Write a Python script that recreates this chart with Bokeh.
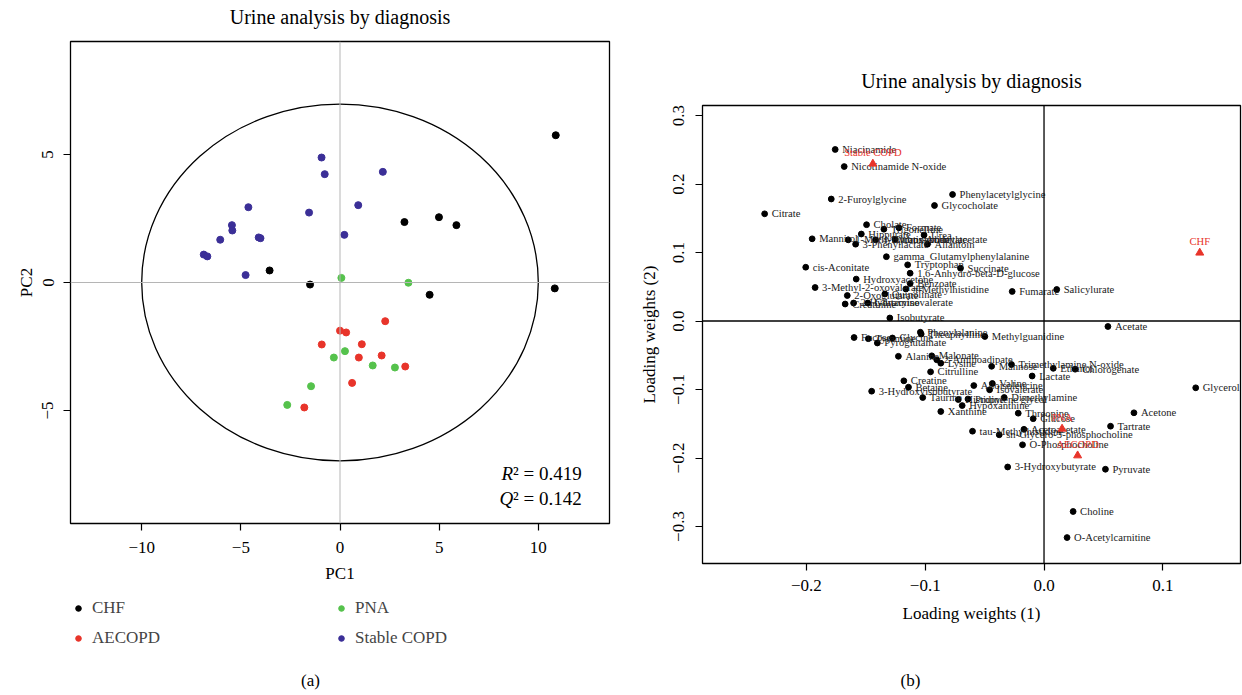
from bokeh.plotting import figure
from bokeh.models import (Span, Legend, LegendItem, Label, CustomJSTickFormatter,
                          FixedTicker, ColumnDataSource, Range1d)
from bokeh.layouts import row, column
from bokeh.embed import file_html
from bokeh.resources import INLINE
from bokeh.core.properties import value

FONT = "Liberation Serif"
RED = "#E8342A"
GREEN = "#55C24C"
BLUE = "#3B2F97"
TITLE = "Urine analysis by diagnosis"

# ---------------- Score plot (a) ----------------
chf_pc1 = [10.88, 3.25, 4.99, 5.87, -3.55, -1.51, 4.52, 10.83]
chf_pc2 = [5.75, 2.36, 2.55, 2.24, 0.47, -0.08, -0.48, -0.23]
aecopd_pc1 = [2.28, 0.00, 0.31, -0.92, 1.10, 0.95, 2.10, 3.29, 0.61, -1.80]
aecopd_pc2 = [-1.51, -1.88, -1.95, -2.42, -2.41, -2.93, -2.85, -3.28, -3.92, -4.88]
pna_pc1 = [0.07, 3.45, 0.25, -0.31, 1.65, 2.77, -1.46, -2.66]
pna_pc2 = [0.18, -0.01, -2.68, -2.93, -3.24, -3.32, -4.05, -4.78]
copd_pc1 = [-0.93, -0.77, 2.16, -4.62, -1.56, 0.92, -5.45, -5.43, -6.04, -4.10, -4.01,
            0.22, -6.87, -6.69, -4.76]
copd_pc2 = [4.88, 4.23, 4.32, 2.94, 2.73, 3.02, 2.24, 2.03, 1.67, 1.76, 1.73,
            1.86, 1.09, 1.02, 0.29]
ellipse_a = 10.0
ellipse_b = 6.97
r2_text = "² = 0.419"
q2_text = "² = 0.142"
score_xticks = [-10, -5, 0, 5, 10]
score_yticks = [-5, 0, 5]
legend_labels = ["CHF", "AECOPD", "PNA", "Stable COPD"]

# ---------------- Loadings plot (b) ----------------
lw_names = ["Niacinamide", "Nicotinamide N-oxide", "2-Furoylglycine", "Citrate",
            "Phenylacetylglycine", "Glycocholate", "Cholate", "Trigonelline", "Formate",
            "Hippurate", "Urea", "Mannitol", "1-Methylnicotinamide", "3-Phenyllactate",
            "4-Hydroxyphenylacetate", "trans-Aconitate", "Allantoin",
            "gamma_Glutamylphenylalanine", "Tryptophan", "Succinate",
            "1,6-Anhydro-beta-D-glucose", "cis-Aconitate", "Hydroxyacetone", "Benzoate",
            "3-Methyl-2-oxovalerate", "π-Methylhistidine", "2-Oxoglutarate", "Quinolinate",
            "Creatinine", "2-Hydroxyisovalerate", "Glutamine", "Isobutyrate", "Fumarate",
            "Salicylurate", "Fucose", "Tyramine", "Pyroglutamate", "Glycine",
            "Phenylalanine", "Theophylline", "Methylguanidine", "Alanine", "Malonate",
            "2-Aminoadipate", "Lysine", "Citrulline", "Mannose", "Trimethylamine N-oxide",
            "Lactate", "Ethanol", "Chlorogenate", "Acetate", "Glycerol", "Creatine",
            "Betaine", "3-Hydroxyisobutyrate", "Taurine", "Alloisoleucine", "Valine",
            "Isovalerate", "Histidine", "Propylene glycol", "Dimethylamine", "Hypoxanthine",
            "Xanthine", "Threonine", "Glucose", "Acetone", "Tartrate", "tau-Methylhistidine",
            "sn-Glycero-3-phosphocholine", "Acetoacetate", "O-Phosphocholine",
            "3-Hydroxybutyrate", "Pyruvate", "Choline", "O-Acetylcarnitine"]
lw1 = [-0.1758, -0.1682, -0.1791, -0.2352, -0.0770, -0.0922, -0.1494, -0.1348, -0.1221, -0.1538,
       -0.1010, -0.1952, -0.1648, -0.1586, -0.1418, -0.1255, -0.0981, -0.1327, -0.1148, -0.0703,
       -0.1127, -0.2006, -0.1581, -0.1127, -0.1927, -0.1163, -0.1656, -0.1340, -0.1674, -0.1603,
       -0.1484, -0.1298, -0.0268, 0.0107, -0.1599, -0.1479, -0.1403, -0.1276, -0.1041, -0.1034,
       -0.0498, -0.1226, -0.0945, -0.0903, -0.0869, -0.0955, -0.0441, -0.0274, -0.0100, 0.0078,
       0.0262, 0.0538, 0.1277, -0.1180, -0.1141, -0.1451, -0.1021, -0.0591, -0.0435, -0.0458,
       -0.0722, -0.0640, -0.0335, -0.0689, -0.0869, -0.0217, -0.0091, 0.0757, 0.0560, -0.0602,
       -0.0377, -0.0169, -0.0181, -0.0306, 0.0517, 0.0245, 0.0194]
lw2 = [0.2504, 0.2255, 0.1781, 0.1565, 0.1847, 0.1686, 0.1406, 0.1340, 0.1361, 0.1270,
       0.1255, 0.1200, 0.1185, 0.1121, 0.1185, 0.1190, 0.1121, 0.0939, 0.0820, 0.0771,
       0.0698, 0.0785, 0.0612, 0.0547, 0.0489, 0.0467, 0.0372, 0.0394, 0.0248, 0.0263,
       0.0263, 0.0044, 0.0431, 0.0460, -0.0241, -0.0258, -0.0321, -0.0248, -0.0164, -0.0190,
       -0.0226, -0.0515, -0.0508, -0.0566, -0.0616, -0.0742, -0.0661, -0.0635, -0.0803, -0.0691,
       -0.0704, -0.0080, -0.0975, -0.0873, -0.0966, -0.1025, -0.1117, -0.0942, -0.0912, -0.1004,
       -0.1146, -0.1139, -0.1117, -0.1234, -0.1321, -0.1346, -0.1426, -0.1340, -0.1536, -0.1609,
       -0.1661, -0.1581, -0.1807, -0.2131, -0.2164, -0.2781, -0.3161]
group_names = ["Stable COPD", "CHF", "PNA", "AECOPD"]
group_lw1 = [-0.1441, 0.1311, 0.0152, 0.0283]
group_lw2 = [0.2295, 0.0996, -0.1574, -0.1964]
load_xticks = [-0.2, -0.1, 0.0, 0.1]
load_yticks = [-0.3, -0.2, -0.1, 0.0, 0.1, 0.2, 0.3]


def style_axes(p, xlabel, ylabel, xticks, yticks, digits, xs, xls, ys, yls):
    fmt = CustomJSTickFormatter(
        code="return (tick < -1e-9 ? '\u2212' : '') + Math.abs(tick).toFixed(%d);" % digits)
    p.xaxis.ticker = FixedTicker(ticks=xticks)
    p.yaxis.ticker = FixedTicker(ticks=yticks)
    for ax in (p.xaxis[0], p.yaxis[0]):
        ax.formatter = fmt
        ax.axis_line_color = None
        ax.major_tick_line_color = "black"
        ax.major_tick_line_width = 1.2
        ax.major_tick_out = 7
        ax.major_tick_in = 0
        ax.minor_tick_line_color = None
        ax.major_label_text_font = FONT
        ax.major_label_text_font_size = "17px"
        ax.major_label_text_color = "black"
        ax.axis_label_text_font = FONT
        ax.axis_label_text_font_size = "17px"
        ax.axis_label_text_font_style = "normal"
        ax.axis_label_text_color = "black"
    p.xaxis.axis_label = xlabel
    p.yaxis.axis_label = ylabel
    p.xaxis.major_label_standoff = xs
    p.xaxis.axis_label_standoff = xls
    p.yaxis.major_label_orientation = "vertical"
    p.yaxis.major_label_standoff = ys
    p.yaxis.axis_label_standoff = yls
    p.xgrid.grid_line_color = None
    p.ygrid.grid_line_color = None
    p.outline_line_color = "black"
    p.outline_line_width = 1.3


def blank(width, height, left, right, top=0, bottom=0, xr=(0, 1), yr=(0, 1)):
    f = figure(width=width, height=height, x_range=Range1d(*xr), y_range=Range1d(*yr),
               output_backend="svg", toolbar_location=None, x_axis_type=None, y_axis_type=None,
               min_border_left=left, min_border_right=right, min_border_top=top,
               min_border_bottom=bottom)
    f.outline_line_color = None
    f.grid.visible = False
    return f


def text_label(x, y, text, size, style="normal", align="center"):
    return Label(x=x, y=y, text=text, text_align=align, text_baseline="middle",
                 text_font=FONT, text_font_size=size, text_font_style=style,
                 text_color="black")


# ---------------- title (a) ----------------
pT = blank(620, 36, 70, 11)
pT.add_layout(text_label(0.5, 0.53, TITLE, "20px"))

# ---------------- figure (a) ----------------
pA = figure(width=620, height=554, x_range=Range1d(-13.59, 13.59), y_range=Range1d(-9.41, 9.41),
            output_backend="svg", toolbar_location=None,
            min_border_left=70, min_border_right=11, min_border_top=5, min_border_bottom=67)
style_axes(pA, "PC1", "PC2", score_xticks, score_yticks, 0, 11, 8, 10, 4)

pA.add_layout(Span(location=0, dimension="height", line_color="#b5b5b5", line_width=1))
pA.add_layout(Span(location=0, dimension="width", line_color="#b5b5b5", line_width=1))
pA.ellipse(x=[0], y=[0], width=[2 * ellipse_a], height=[2 * ellipse_b],
           fill_color=None, line_color="black", line_width=1.3)

pA.scatter(chf_pc1, chf_pc2, size=7, color="black")
pA.scatter(aecopd_pc1, aecopd_pc2, size=7, color=RED)
pA.scatter(pna_pc1, pna_pc2, size=7, color=GREEN)
pA.scatter(copd_pc1, copd_pc2, size=7, color=BLUE)

for yy, txt, letter in ((-7.45, r2_text, "R"), (-8.43, q2_text, "Q")):
    pA.add_layout(text_label(8.73, yy, letter, "19px", style="italic", align="right"))
    pA.add_layout(text_label(8.73, yy, txt, "19px", align="left"))

# ---------------- legend + caption (a) ----------------
# the legend panel shows the same four groups (kept out of its visible range)
pL = blank(617, 103, 46, 0, top=8, xr=(1000, 1001), yr=(1000, 1001))
pL.margin = (0, 0, 0, 1)
leg_renderers = [pL.scatter(xs, ys, size=7, color=c) for xs, ys, c in
                 ((chf_pc1, chf_pc2, "black"), (aecopd_pc1, aecopd_pc2, RED),
                  (pna_pc1, pna_pc2, GREEN), (copd_pc1, copd_pc2, BLUE))]
legend = Legend(items=[LegendItem(label=lab, renderers=[r])
                       for lab, r in zip(legend_labels, leg_renderers)],
                orientation="vertical", nrows=2, location="top_left",
                glyph_width=14, glyph_height=20, label_height=20, label_width=232,
                label_standoff=7, spacing=10, padding=1, margin=0,
                label_text_font=FONT, label_text_font_size="17px",
                border_line_color=None, background_fill_alpha=0)
pL.add_layout(legend)
pL.add_layout(text_label(1000.446, 1000.135, "(a)", "17px"))

# ---------------- figure (b) ----------------
pB = figure(width=622, height=648, x_range=Range1d(-0.2875, 0.1654), y_range=Range1d(-0.354, 0.3146),
            output_backend="svg", toolbar_location=None,
            min_border_left=82, min_border_right=2, min_border_top=103, min_border_bottom=87)
pB.margin = (2, 0, 0, 0)
style_axes(pB, "Loading weights (1)", "Loading weights (2)", load_xticks, load_yticks, 1,
           9, 10, 11, 12)
pB.title.text = TITLE
pB.title.align = "center"
pB.title.text_font = FONT
pB.title.text_font_size = "20px"
pB.title.text_font_style = "normal"
pB.title.text_color = "black"
pB.title.standoff = 27

pB.add_layout(Span(location=0, dimension="height", line_color="black", line_width=1.3))
pB.add_layout(Span(location=0, dimension="width", line_color="black", line_width=1.3))

src = ColumnDataSource(dict(x=lw1, y=lw2, name=lw_names))
pB.scatter("x", "y", source=src, size=5.8, color="black")
pB.text("x", "y", text="name", source=src, x_offset=7, text_baseline="middle",
        text_font=value(FONT), text_font_size="10.6px", text_color="#1a1a1a")

gsrc = ColumnDataSource(dict(x=group_lw1, y=group_lw2, name=group_names))
pB.scatter("x", "y", source=gsrc, marker="triangle", size=8, color=RED)
pB.text("x", "y", text="name", source=gsrc, y_offset=-11, text_align="center",
        text_baseline="middle", text_font=value(FONT), text_font_size="10.6px", text_color=RED)

# ---------------- caption (b) ----------------
pC = blank(622, 42, 82, 2)
pC.add_layout(text_label(0.3866, 0.286, "(b)", "17px"))

layout = row(column(pT, pA, pL, spacing=0), column(pB, pC, spacing=0), spacing=0)
open("out.html", "w").write(file_html(layout, INLINE))
